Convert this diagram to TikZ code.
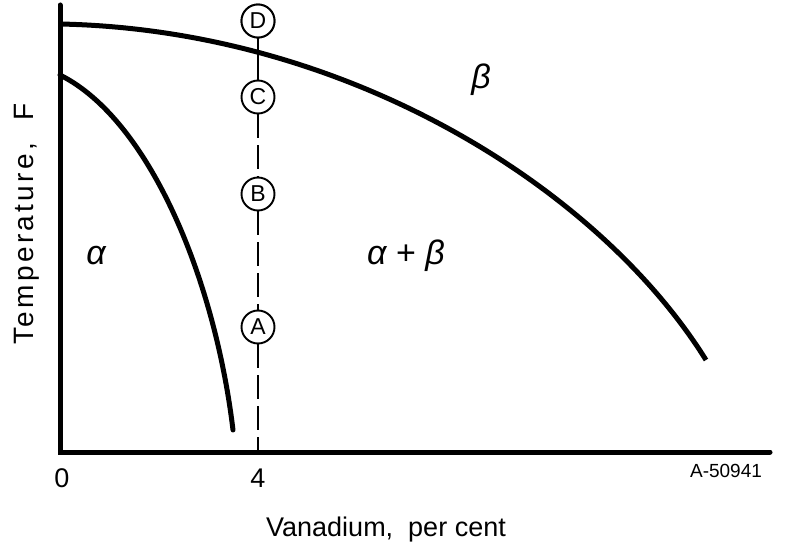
\documentclass[tikz,border=0pt]{standalone}
\usepackage{fontspec}
\setmainfont{Liberation Sans}
\begin{document}
\begin{tikzpicture}[x=1pt,y=-1pt,
  axis/.style={line width=5pt},
  curve/.style={line width=5pt},
  pt/.style={circle,draw,line width=1.9pt,minimum size=33pt,inner sep=0pt,fill=white,font=\fontsize{23}{23}\selectfont},
  lbl/.style={font=\fontsize{27}{27}\selectfont},
  greek/.style={font=\fontsize{34}{34}\selectfont\itshape}]
\useasboundingbox (0,0) rectangle (786,556);
% axes
\coordinate (top) at (60,5);
\coordinate (orig) at (60,452);
\coordinate (xend) at (770,452);
\draw[axis,line cap=round] (top) -- (orig) -- (xend);
% composition line
\coordinate (vbot) at (258,452);
\node[pt] (D) at (258,21) {D};
\node[pt] (C) at (258,97) {C};
\node[pt] (B) at (258,194) {B};
\node[pt] (A) at (258,327) {A};
\draw[line width=2.8pt] (D) -- (C);
\draw[line width=2.8pt,dash pattern=on 24pt off 7pt] (C) -- (B);
\draw[line width=2.8pt,dash pattern=on 24pt off 7pt] (B) -- (A);
\draw[line width=2.8pt,dash pattern=on 24pt off 7pt] (A) -- (vbot);
% curves
\draw[curve] (60,24) .. controls (350,30) and (600,190) .. (706,360);
\draw[curve,line cap=round] (60,75) .. controls (150,120) and (215,280) .. (233,430);
\node[pt] at (258,21) {D};
% labels
\node[greek] (alpha) at (96,256) {α};
\node[greek] (beta) at (481,80) {β};
\node[greek] (ab) at (406,256) {α {\upshape+} β};
\node[lbl] (n0) at (62,478) {0};
\node[lbl] (n4) at (258,478) {4};
\node[font=\fontsize{19}{19}\selectfont] (code) at (726,471) {A-50941};
\node[lbl] (xl) at (386,530) {Vanadium,\ \ per cent};
\node[lbl,rotate=90,font=\fontsize{28}{28}\selectfont\addfontfeature{LetterSpace=12}] (yl) at (27,224) {Temperature,\ \ F};
\end{tikzpicture}
\end{document}
